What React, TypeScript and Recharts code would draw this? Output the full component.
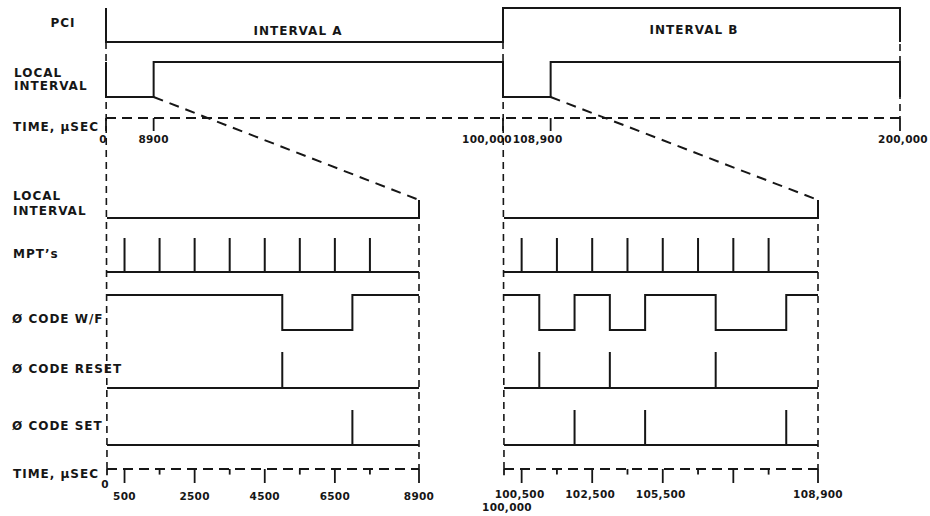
import React from 'react';
import * as Recharts from 'recharts';
import { ComposedChart, Line, XAxis, YAxis } from 'recharts';

const W = 930;
const H = 516;
const INK = '#161616';
const FONT = '"DejaVu Sans", Arial, sans-serif';

// ---- top strip (μs) ----
const PCI = [
  { t: 0, v: 1 }, { t: 0, v: 0 }, { t: 100000, v: 1 }, { t: 200000, v: 1 }, { t: 200000, v: 0 },
];
const LOCAL_TOP = [
  { t: 0, v: 1 }, { t: 0, v: 0 }, { t: 8900, v: 1 }, { t: 100000, v: 0 },
  { t: 108900, v: 1 }, { t: 200000, v: 1 }, { t: 200000, v: 0 },
];
const TOP_TICKS = [0, 8900, 100000, 108900, 200000];
const TOP_TICK_LABELS = ['0', '8900', '100,000', '108,900', '200,000'];

// ---- interval A window ----
const WIN_A = [0, 8900];
const LOCAL_A = [{ t: 0, v: 0 }, { t: 8900, v: 0 }, { t: 8900, v: 1 }];
const MPT_A = [500, 1500, 2500, 3500, 4500, 5500, 6500, 7500];
const WF_A = [{ t: 0, v: 1 }, { t: 5000, v: 0 }, { t: 7000, v: 1 }, { t: 8900, v: 1 }];
const RESET_A = [5000];
const SET_A = [7000];
const TICKS_A = [500, 1500, 2500, 3500, 4500, 5500, 6500, 7500];
const TICK_LABELS_A = ['500', '', '2500', '', '4500', '', '6500', ''];
const END_LABELS_A = ['0', '8900'];

// ---- interval B window ----
const WIN_B = [100000, 108900];
const LOCAL_B = [{ t: 100000, v: 0 }, { t: 108900, v: 0 }, { t: 108900, v: 1 }];
const MPT_B = [100500, 101500, 102500, 103500, 104500, 105500, 106500, 107500];
const WF_B = [
  { t: 100000, v: 1 }, { t: 101000, v: 0 }, { t: 102000, v: 1 }, { t: 103000, v: 0 },
  { t: 104000, v: 1 }, { t: 106000, v: 0 }, { t: 108000, v: 1 }, { t: 108900, v: 1 },
];
const RESET_B = [101000, 103000, 106000];
const SET_B = [102000, 104000, 108000];
const TICKS_B = [100500, 101500, 102500, 103500, 104500, 105500, 106500, 107500];
const TICK_LABELS_B = ['100,500', '', '102,500', '', '105,500', '', '', ''];
const END_LABELS_B = ['100,000', '108,900'];

// rows: pixel of level 1 (hi) and level 0 (lo)
const ROWS = [
  { id: 'pci', hi: 8, lo: 42 },
  { id: 'liTop', hi: 62, lo: 97 },
  { id: 'tTop', hi: 118, lo: 131 },
  { id: 'liBot', hi: 200, lo: 218 },
  { id: 'mpt', hi: 238, lo: 272 },
  { id: 'wf', hi: 295, lo: 330 },
  { id: 'reset', hi: 352, lo: 388 },
  { id: 'set', hi: 410, lo: 445 },
  { id: 'tBot', hi: 469, lo: 483 },
];

// the 8900 μs windows are stretched in the top strip
function brokenScale(knots: number[], fracs: number[]) {
  let dom: any[] = [knots[0], knots[knots.length - 1]];
  let rng: any[] = [0, 1];
  const s: any = (v: number) => {
    let i = 1;
    while (i < knots.length - 1 && v > knots[i]) i++;
    const f = fracs[i - 1] + ((v - knots[i - 1]) / (knots[i] - knots[i - 1])) * (fracs[i] - fracs[i - 1]);
    return rng[0] + f * (rng[1] - rng[0]);
  };
  s.domain = (d?: any) => { if (d === undefined) return dom; dom = d; return s; };
  s.range = (r?: any) => { if (r === undefined) return rng; rng = r; return s; };
  s.copy = () => brokenScale(knots, fracs).domain(dom).range(rng);
  s.ticks = () => knots;
  s.tickFormat = () => (v: number) => String(v);
  return s;
}
const topScale = brokenScale(TOP_TICKS, [0, 0.06, 0.5, 0.56, 1]);

const X_AXES = [
  { id: 'top', domain: [0, 200000], left: 106, right: 30 },
  { id: 'a', domain: WIN_A, left: 107, right: 511 },
  { id: 'b', domain: WIN_B, left: 504, right: 112 },
];

const pulses = (times: number[], win: number[]) => {
  const pts = [{ t: win[0], v: 0 }];
  times.forEach((t) => pts.push({ t, v: 0 }, { t, v: 1 }, { t, v: 0 }));
  pts.push({ t: win[1], v: 0 });
  return pts;
};

const LABEL: React.CSSProperties = { fontFamily: FONT, fontWeight: 700, fontSize: 12, letterSpacing: 1, fill: INK };
const NUM: React.CSSProperties = { fontFamily: FONT, fontWeight: 700, fontSize: 10.5, letterSpacing: 0.3, fill: INK };

// dashed guides: [xAxis, t, row, level]
const GUIDES: any[] = [
  { from: ['top', 0, 'pci', 0], to: ['a', 0, 'tBot', 1], zoom: false },
  { from: ['top', 100000, 'pci', 0], to: ['b', 100000, 'tBot', 1], zoom: false },
  { from: ['top', 200000, 'pci', 1], to: ['top', 200000, 'tTop', 1], zoom: false },
  { from: ['a', 8900, 'liBot', 1], to: ['a', 8900, 'tBot', 1], zoom: false },
  { from: ['b', 108900, 'liBot', 1], to: ['b', 108900, 'tBot', 1], zoom: false },
  { from: ['top', 8900, 'liTop', 0], to: ['a', 8900, 'liBot', 1], zoom: true },
  { from: ['top', 108900, 'liTop', 0], to: ['b', 108900, 'liBot', 1], zoom: true },
];

function fallbackX(id: string, t: number) {
  const a = X_AXES.find((x) => x.id === id)!;
  const r0 = a.left;
  const r1 = W - a.right;
  if (id === 'top') return topScale.copy().range([r0, r1])(t);
  return r0 + ((t - a.domain[0]) / (a.domain[1] - a.domain[0])) * (r1 - r0);
}
function fallbackY(id: string, v: number) {
  const r = ROWS.find((x) => x.id === id)!;
  return r.lo + (r.hi - r.lo) * v;
}

// pixel mappers from the chart's own axis scales
function useMappers() {
  const R: any = Recharts;
  const hooks = typeof R.useXAxisScale === 'function' && typeof R.useYAxisScale === 'function';
  const xs: Record<string, any> = {};
  const ys: Record<string, any> = {};
  if (hooks) {
    X_AXES.forEach((a) => { xs[a.id] = R.useXAxisScale(a.id); });
    ROWS.forEach((r) => { ys[r.id] = R.useYAxisScale(r.id); });
  }
  const call = (s: any, v: number) => (typeof s === 'function' ? s(v) : s && s.map ? s.map(v) : NaN);
  const px = (id: string, t: number) => {
    const v = hooks && xs[id] ? call(xs[id], t) : NaN;
    return Number.isFinite(v) ? v : fallbackX(id, t);
  };
  const py = (id: string, l: number) => {
    const v = hooks && ys[id] ? call(ys[id], l) : NaN;
    return Number.isFinite(v) ? v : fallbackY(id, l);
  };
  return { px, py };
}

function Guides() {
  const { px, py } = useMappers();
  return (
    <g>
      {GUIDES.map((g, i) => (
        <line
          key={i}
          x1={px(g.from[0], g.from[1])}
          y1={py(g.from[2], g.from[3])}
          x2={px(g.to[0], g.to[1])}
          y2={py(g.to[2], g.to[3])}
          stroke={INK}
          strokeWidth={g.zoom ? 2 : 1.6}
          strokeDasharray={g.zoom ? '10 7' : '7 5'}
        />
      ))}
    </g>
  );
}

type Mark = { t: number; low: number; label: string; dx: number; gap: number };

function TimeAxis({ xId, rowId, span, marks }: { xId: string; rowId: string; span: number[]; marks: Mark[] }) {
  const { px, py } = useMappers();
  const y1 = py(rowId, 1);
  return (
    <g>
      <line x1={px(xId, span[0])} y1={y1} x2={px(xId, span[1])} y2={y1} stroke={INK} strokeWidth={1.8} strokeDasharray="10 6" />
      {marks.map((m, i) => {
        const x = px(xId, m.t);
        const y2 = py(rowId, m.low);
        return (
          <g key={i}>
            <line x1={x} y1={y1} x2={x} y2={y2} stroke={INK} strokeWidth={1.8} />
            {m.label ? (
              <text x={x + m.dx} y={y2 + m.gap} textAnchor="middle" style={NUM}>{m.label}</text>
            ) : null}
          </g>
        );
      })}
    </g>
  );
}

const sig = (key: string, x: string, y: string, data: any[], type: any = 'linear') => (
  <Line
    key={key}
    xAxisId={x}
    yAxisId={y}
    data={data}
    dataKey="v"
    type={type}
    stroke={INK}
    strokeWidth={2}
    dot={false}
    activeDot={false}
    isAnimationActive={false}
  />
);

const TOP_DX = [-3, 0, -16, -13, 3];
const topMarks: Mark[] = TOP_TICKS.map((t, i) => ({ t, low: 0, label: TOP_TICK_LABELS[i], dx: TOP_DX[i], gap: 12 }));
const marksA: Mark[] = [
  { t: WIN_A[0], low: 0.55, label: END_LABELS_A[0], dx: -2, gap: 13 },
  ...TICKS_A.map((t, i) => ({ t, low: i % 2 === 0 ? 0 : 0.6, label: TICK_LABELS_A[i], dx: 0, gap: 17 })),
  { t: WIN_A[1], low: 0, label: END_LABELS_A[1], dx: 0, gap: 17 },
];
const marksB: Mark[] = [
  { t: WIN_B[0], low: 0.55, label: END_LABELS_B[0], dx: 3, gap: 36 },
  ...TICKS_B.map((t, i) => ({ t, low: i % 2 === 0 ? 0 : 0.6, label: TICK_LABELS_B[i], dx: -2, gap: 15 })),
  { t: WIN_B[1], low: 0, label: END_LABELS_B[1], dx: 0, gap: 15 },
];

export default function App() {
  return (
    <div style={{ position: 'absolute', left: 0, top: 0, width: W, height: H, background: '#fff' }}>
      <ComposedChart width={W} height={H} margin={{ top: 0, right: 0, bottom: 0, left: 0 }}>
        {X_AXES.map((a) => (
          <XAxis
            key={a.id}
            xAxisId={a.id}
            dataKey="t"
            type="number"
            domain={a.domain}
            scale={a.id === 'top' ? topScale : 'linear'}
            padding={{ left: a.left, right: a.right }}
            hide
          />
        ))}
        {ROWS.map((r) => (
          <YAxis
            key={r.id}
            yAxisId={r.id}
            type="number"
            domain={[0, 1]}
            padding={{ top: r.hi, bottom: H - r.lo }}
            hide
          />
        ))}

        <Guides />
        <TimeAxis xId="top" rowId="tTop" span={[0, 200000]} marks={topMarks} />
        <TimeAxis xId="a" rowId="tBot" span={WIN_A} marks={marksA} />
        <TimeAxis xId="b" rowId="tBot" span={WIN_B} marks={marksB} />

        {/* top strip */}
        {sig('pci', 'top', 'pci', PCI, 'stepAfter')}
        {sig('liTop', 'top', 'liTop', LOCAL_TOP, 'stepAfter')}

        {/* window A */}
        {sig('liA', 'a', 'liBot', LOCAL_A)}
        {sig('mptA', 'a', 'mpt', pulses(MPT_A, WIN_A))}
        {sig('wfA', 'a', 'wf', WF_A, 'stepAfter')}
        {sig('resetA', 'a', 'reset', pulses(RESET_A, WIN_A))}
        {sig('setA', 'a', 'set', pulses(SET_A, WIN_A))}

        {/* window B */}
        {sig('liB', 'b', 'liBot', LOCAL_B)}
        {sig('mptB', 'b', 'mpt', pulses(MPT_B, WIN_B))}
        {sig('wfB', 'b', 'wf', WF_B, 'stepAfter')}
        {sig('resetB', 'b', 'reset', pulses(RESET_B, WIN_B))}
        {sig('setB', 'b', 'set', pulses(SET_B, WIN_B))}

        {/* row labels */}
        <g>
          <text x={63} y={27} textAnchor="middle" style={LABEL}>PCI</text>
          <text x={14} y={77} style={LABEL}>LOCAL</text>
          <text x={14} y={90} style={LABEL}>INTERVAL</text>
          <text x={13} y={131} style={LABEL}>TIME, μSEC</text>
          <text x={298} y={35} textAnchor="middle" style={LABEL}>INTERVAL A</text>
          <text x={694} y={34} textAnchor="middle" style={LABEL}>INTERVAL B</text>
          <text x={13} y={200} style={LABEL}>LOCAL</text>
          <text x={13} y={215} style={LABEL}>INTERVAL</text>
          <text x={13} y={258} style={LABEL}>MPT’s</text>
          <text x={12} y={323} style={LABEL}>Ø CODE W/F</text>
          <text x={12} y={373} style={LABEL}>Ø CODE RESET</text>
          <text x={12} y={430} style={LABEL}>Ø CODE SET</text>
          <text x={13} y={478} style={LABEL}>TIME, μSEC</text>
        </g>
      </ComposedChart>
    </div>
  );
}
